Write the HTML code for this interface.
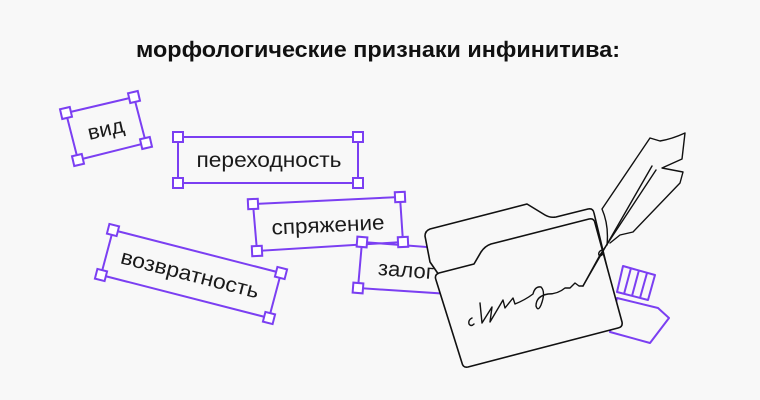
<!DOCTYPE html>
<html><head><meta charset="utf-8"><style>
html,body{margin:0;padding:0;background:#f8f8f8;}
svg{display:block;}
text{font-family:"Liberation Sans","DejaVu Sans",sans-serif;fill:#1a1a1a;}
</style></head><body>
<svg width="760" height="400" viewBox="0 0 760 400" xmlns="http://www.w3.org/2000/svg">
<rect width="760" height="400" fill="#f8f8f8"/>
<text x="378" y="57" text-anchor="middle" font-size="22" font-weight="bold" textLength="484" lengthAdjust="spacingAndGlyphs" style="fill:#111">морфологические признаки инфинитива:</text>

<g stroke="#7b3ff2" stroke-width="2" fill="none">
<polygon points="66,113 134,97 146,143 78,160"/>
<polygon points="178,137 358,137 358,183 178,183"/>
<polygon points="253,204 400,197 403,242 257,251"/>
<polygon points="113,230 281,273 269,318 101,275"/>
<polygon points="362,242 453,249 450,294 358,288"/>
</g>
<text x="106" y="136" font-size="21" text-anchor="middle" textLength="37" lengthAdjust="spacingAndGlyphs" transform="rotate(-13 106 130)">вид</text>
<text x="269" y="167" font-size="21" text-anchor="middle" textLength="145" lengthAdjust="spacingAndGlyphs">переходность</text>
<text x="328" y="232" font-size="21" text-anchor="middle" textLength="113" lengthAdjust="spacingAndGlyphs" transform="rotate(-2.7 328 225)">спряжение</text>
<text x="190" y="281" font-size="21" text-anchor="middle" textLength="142" lengthAdjust="spacingAndGlyphs" transform="rotate(14.4 190 274)">возвратность</text>
<text x="406" y="277" font-size="21" text-anchor="middle" textLength="56" lengthAdjust="spacingAndGlyphs" transform="rotate(4.4 406 270)">залог</text>

<g stroke="#7b3ff2" stroke-width="2" fill="#fff">
<rect x="61" y="108" width="10" height="10" transform="rotate(-13 66 113)"/>
<rect x="129" y="92" width="10" height="10" transform="rotate(-13 134 97)"/>
<rect x="141" y="138" width="10" height="10" transform="rotate(-13 146 143)"/>
<rect x="73" y="155" width="10" height="10" transform="rotate(-13 78 160)"/>
<rect x="173" y="132" width="10" height="10"/>
<rect x="353" y="132" width="10" height="10"/>
<rect x="353" y="178" width="10" height="10"/>
<rect x="173" y="178" width="10" height="10"/>
<rect x="248" y="199" width="10" height="10" transform="rotate(-2.7 253 204)"/>
<rect x="395" y="192" width="10" height="10" transform="rotate(-2.7 400 197)"/>
<rect x="398" y="237" width="10" height="10" transform="rotate(-2.7 403 242)"/>
<rect x="252" y="246" width="10" height="10" transform="rotate(-2.7 257 251)"/>
<rect x="108" y="225" width="10" height="10" transform="rotate(14.4 113 230)"/>
<rect x="276" y="268" width="10" height="10" transform="rotate(14.4 281 273)"/>
<rect x="264" y="313" width="10" height="10" transform="rotate(14.4 269 318)"/>
<rect x="96" y="270" width="10" height="10" transform="rotate(14.4 101 275)"/>
<rect x="357" y="237" width="10" height="10" transform="rotate(4.4 362 242)"/>
<rect x="448" y="244" width="10" height="10" transform="rotate(4.4 453 249)"/>
<rect x="353" y="283" width="10" height="10" transform="rotate(4.4 358 288)"/>
</g>

<!-- ink bottle -->
<g stroke="#7b3ff2" stroke-width="2" fill="#f8f8f8" stroke-linejoin="round">
<polygon points="617,298 658,308 669,318 650,343 610,332"/>
<polygon points="623,266 655,275 648,300 617,292"/>
<line x1="631" y1="268" x2="624" y2="294"/>
<line x1="639" y1="270" x2="632" y2="296"/>
<line x1="647" y1="273" x2="640" y2="298"/>
</g>

<!-- folders -->
<g stroke="#111" stroke-width="1.6" fill="#f8f8f8" stroke-linejoin="round">
<path d="M430,262 L425,236 Q425,231 430,229 L527,204 L545,215 Q550,218 556,217 L588,209 Q593,208 594,213 L610,280 L470,320 Z"/>
<path d="M436,280 Q434,275 439,273 L474,264 L481,252 Q485,246 491,244 L589,219 Q594,218 595,223 L622,322 Q623,327 618,328 L468,367 Q463,368 462,363 Z"/>
</g>

<!-- quill -->
<g stroke="#111" stroke-width="1.4" fill="none" stroke-linejoin="round" stroke-linecap="round">
<path d="M607,245 Q609,225 602,209 L650,138 L660,141 Q672,139 685,133 L682,159 L662,168 L683,172 L680,183 L633,232 L620,235 L610,243"/>
<line x1="652" y1="166" x2="583" y2="286"/>
<line x1="656" y1="170" x2="600" y2="255"/>
<line x1="600" y1="255" x2="583" y2="286"/>
<ellipse cx="601" cy="253" rx="2" ry="3" transform="rotate(30 601 253)"/>
</g>

<!-- signature -->
<path d="M472,318 Q468,320 469,324 Q471,327 474,324 M480,303 L482,323 L492,307 L490,322 L503,300 L505,308 L513,298 L515,304 Q525,300 533,294 Q535,286 541,287 Q546,292 541,305 Q538,312 536,306 Q536,296 548,294 Q558,294 565,288 L570,288 L575,283 L579,286 L583,286"
 stroke="#111" stroke-width="1.4" fill="none" stroke-linejoin="round" stroke-linecap="round"/>
</svg>
</body></html>
